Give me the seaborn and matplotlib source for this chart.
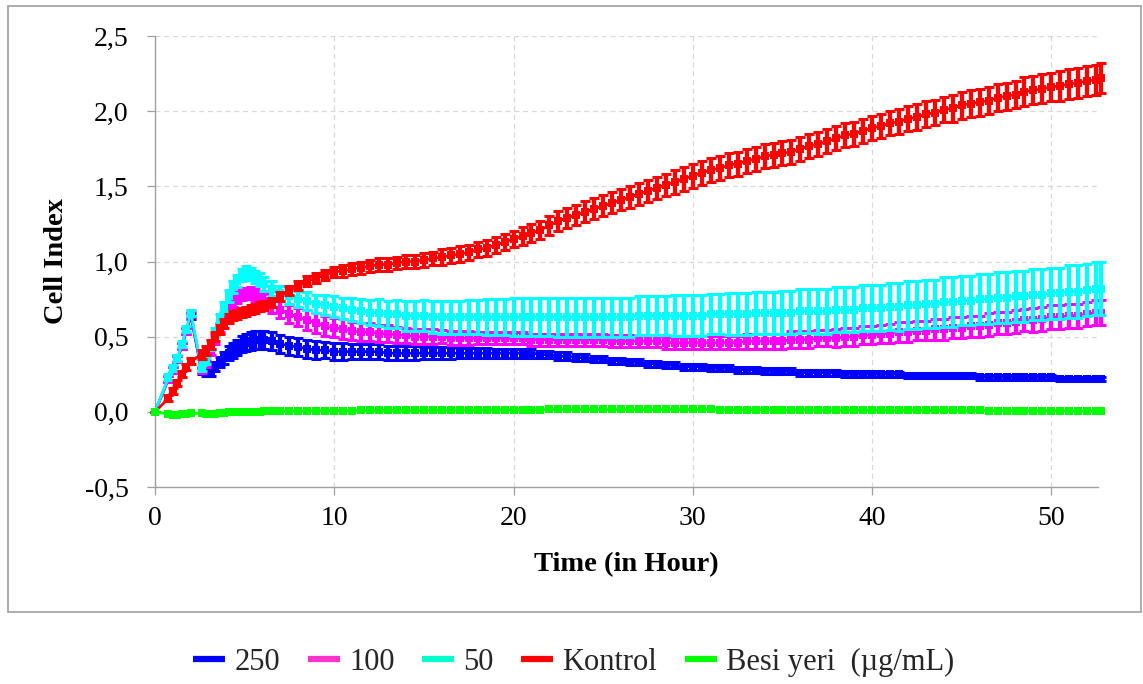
import numpy as np
import pandas as pd
import matplotlib
matplotlib.use("Agg")
import matplotlib.pyplot as plt
from matplotlib.lines import Line2D
from matplotlib.patches import Rectangle
import seaborn as sns

# Sampling times (hours)
hours = [
    0.0, 0.75, 1.0, 1.25, 1.5, 1.75, 2.0, 2.6, 2.85, 3.1,
    3.35, 3.6, 3.85, 4.1, 4.35, 4.6, 4.85, 5.1, 5.35, 5.6,
    5.85, 6.1, 6.5, 7.0, 7.5, 8.0, 8.5, 9.0, 9.5, 10.0,
    10.5, 11, 11.5, 12, 12.5, 13, 13.5, 14, 14.5, 15,
    15.5, 16, 16.5, 17, 17.5, 18, 18.5, 19, 19.5, 20,
    20.5, 21, 21.5, 22, 22.5, 23, 23.5, 24, 24.5, 25,
    25.5, 26, 26.5, 27, 27.5, 28, 28.5, 29, 29.5, 30,
    30.5, 31, 31.5, 32, 32.5, 33, 33.5, 34, 34.5, 35,
    35.5, 36, 36.5, 37, 37.5, 38, 38.5, 39, 39.5, 40,
    40.5, 41, 41.5, 42, 42.5, 43, 43.5, 44, 44.5, 45,
    45.5, 46, 46.5, 47, 47.5, 48, 48.5, 49, 49.5, 50,
    50.5, 51, 51.5, 52, 52.5, 52.75,
]

# Cell index, 250 ug/mL
ci_250 = [
    0.00, 0.22, 0.28, 0.35, 0.44, 0.54, 0.64, 0.27, 0.26, 0.27,
    0.30, 0.33, 0.36, 0.39, 0.41, 0.43, 0.45, 0.46, 0.47, 0.48,
    0.48, 0.48, 0.47, 0.45, 0.44, 0.43, 0.42, 0.41, 0.41, 0.40,
    0.40, 0.40, 0.40, 0.40, 0.40, 0.39, 0.39, 0.39, 0.39, 0.39,
    0.39, 0.39, 0.39, 0.39, 0.39, 0.39, 0.39, 0.39, 0.39, 0.39,
    0.39, 0.39, 0.38, 0.38, 0.37, 0.37, 0.36, 0.36, 0.35, 0.35,
    0.34, 0.34, 0.33, 0.33, 0.32, 0.32, 0.31, 0.31, 0.30, 0.30,
    0.30, 0.29, 0.29, 0.29, 0.28, 0.28, 0.28, 0.27, 0.27, 0.27,
    0.27, 0.26, 0.26, 0.26, 0.26, 0.26, 0.25, 0.25, 0.25, 0.25,
    0.25, 0.25, 0.25, 0.24, 0.24, 0.24, 0.24, 0.24, 0.24, 0.24,
    0.24, 0.23, 0.23, 0.23, 0.23, 0.23, 0.23, 0.23, 0.23, 0.23,
    0.22, 0.22, 0.22, 0.22, 0.22, 0.22,
]
sd_250 = [
    0.00, 0.02, 0.02, 0.02, 0.02, 0.02, 0.02, 0.02, 0.02, 0.03,
    0.03, 0.035, 0.04, 0.045, 0.05, 0.05, 0.055, 0.055, 0.06, 0.06,
    0.06, 0.06, 0.06, 0.06, 0.06, 0.06, 0.06, 0.06, 0.055, 0.055,
    0.055, 0.05, 0.05, 0.05, 0.05, 0.045, 0.045, 0.045, 0.045, 0.04,
    0.04, 0.04, 0.04, 0.035, 0.035, 0.035, 0.035, 0.03, 0.03, 0.03,
    0.03, 0.03, 0.025, 0.025, 0.025, 0.025, 0.025, 0.025, 0.02, 0.02,
    0.02, 0.02, 0.02, 0.02, 0.02, 0.02, 0.02, 0.02, 0.02, 0.02,
    0.02, 0.02, 0.02, 0.02, 0.02, 0.02, 0.02, 0.02, 0.02, 0.02,
    0.02, 0.02, 0.02, 0.02, 0.02, 0.02, 0.02, 0.02, 0.02, 0.02,
    0.015, 0.015, 0.015, 0.015, 0.015, 0.015, 0.015, 0.015, 0.015, 0.015,
    0.015, 0.015, 0.015, 0.015, 0.015, 0.015, 0.015, 0.015, 0.015, 0.015,
    0.015, 0.015, 0.015, 0.015, 0.015, 0.015,
]

# Cell index, 100 ug/mL
ci_100 = [
    0.00, 0.22, 0.28, 0.35, 0.44, 0.54, 0.65, 0.28, 0.32, 0.40,
    0.48, 0.56, 0.63, 0.69, 0.73, 0.76, 0.78, 0.79, 0.79, 0.78,
    0.76, 0.74, 0.71, 0.68, 0.65, 0.63, 0.61, 0.59, 0.57, 0.56,
    0.55, 0.54, 0.53, 0.53, 0.52, 0.52, 0.51, 0.51, 0.50, 0.50,
    0.50, 0.50, 0.49, 0.49, 0.49, 0.49, 0.49, 0.49, 0.49, 0.49,
    0.49, 0.48, 0.48, 0.48, 0.48, 0.48, 0.48, 0.48, 0.48, 0.48,
    0.47, 0.47, 0.47, 0.47, 0.47, 0.47, 0.46, 0.46, 0.46, 0.46,
    0.46, 0.46, 0.46, 0.46, 0.46, 0.47, 0.47, 0.47, 0.47, 0.47,
    0.48, 0.48, 0.48, 0.49, 0.49, 0.49, 0.50, 0.50, 0.51, 0.51,
    0.52, 0.52, 0.53, 0.53, 0.54, 0.54, 0.55, 0.55, 0.56, 0.56,
    0.57, 0.57, 0.58, 0.59, 0.59, 0.60, 0.61, 0.61, 0.62, 0.63,
    0.63, 0.64, 0.64, 0.65, 0.66, 0.66,
]
sd_100 = [
    0.00, 0.02, 0.02, 0.02, 0.02, 0.02, 0.02, 0.02, 0.02, 0.02,
    0.03, 0.03, 0.03, 0.03, 0.03, 0.035, 0.035, 0.035, 0.04, 0.04,
    0.04, 0.045, 0.05, 0.055, 0.06, 0.06, 0.065, 0.065, 0.065, 0.065,
    0.065, 0.06, 0.06, 0.06, 0.055, 0.055, 0.055, 0.05, 0.05, 0.05,
    0.05, 0.045, 0.045, 0.045, 0.045, 0.04, 0.04, 0.04, 0.04, 0.04,
    0.04, 0.04, 0.04, 0.04, 0.04, 0.04, 0.04, 0.04, 0.04, 0.04,
    0.04, 0.04, 0.04, 0.04, 0.04, 0.04, 0.04, 0.04, 0.04, 0.04,
    0.045, 0.045, 0.045, 0.045, 0.045, 0.05, 0.05, 0.05, 0.05, 0.05,
    0.055, 0.055, 0.055, 0.055, 0.055, 0.06, 0.06, 0.06, 0.06, 0.06,
    0.06, 0.065, 0.065, 0.065, 0.065, 0.065, 0.07, 0.07, 0.07, 0.07,
    0.07, 0.07, 0.075, 0.075, 0.075, 0.075, 0.075, 0.08, 0.08, 0.08,
    0.08, 0.08, 0.08, 0.08, 0.085, 0.085,
]

# Cell index, 50 ug/mL
ci_50 = [
    0.00, 0.23, 0.29, 0.36, 0.45, 0.55, 0.66, 0.29, 0.34, 0.44,
    0.53, 0.62, 0.70, 0.77, 0.83, 0.87, 0.91, 0.93, 0.92, 0.90,
    0.88, 0.85, 0.82, 0.79, 0.77, 0.75, 0.74, 0.72, 0.71, 0.70,
    0.69, 0.68, 0.67, 0.66, 0.66, 0.65, 0.65, 0.64, 0.64, 0.64,
    0.63, 0.63, 0.63, 0.63, 0.63, 0.63, 0.63, 0.63, 0.63, 0.63,
    0.63, 0.63, 0.63, 0.63, 0.63, 0.63, 0.63, 0.63, 0.63, 0.63,
    0.63, 0.63, 0.63, 0.64, 0.64, 0.64, 0.64, 0.64, 0.64, 0.64,
    0.64, 0.65, 0.65, 0.65, 0.65, 0.65, 0.66, 0.66, 0.66, 0.66,
    0.66, 0.67, 0.67, 0.67, 0.67, 0.68, 0.68, 0.68, 0.69, 0.69,
    0.69, 0.70, 0.70, 0.71, 0.71, 0.72, 0.72, 0.73, 0.73, 0.74,
    0.74, 0.75, 0.75, 0.76, 0.76, 0.77, 0.77, 0.78, 0.78, 0.79,
    0.79, 0.80, 0.80, 0.81, 0.82, 0.82,
]
sd_50 = [
    0.00, 0.02, 0.02, 0.02, 0.02, 0.02, 0.02, 0.02, 0.02, 0.03,
    0.03, 0.03, 0.03, 0.04, 0.04, 0.04, 0.04, 0.04, 0.04, 0.04,
    0.045, 0.045, 0.05, 0.05, 0.055, 0.055, 0.06, 0.06, 0.065, 0.07,
    0.07, 0.075, 0.08, 0.085, 0.09, 0.09, 0.095, 0.10, 0.10, 0.105,
    0.105, 0.11, 0.11, 0.11, 0.115, 0.115, 0.12, 0.12, 0.12, 0.125,
    0.125, 0.125, 0.125, 0.125, 0.13, 0.13, 0.13, 0.13, 0.13, 0.13,
    0.13, 0.13, 0.13, 0.13, 0.13, 0.13, 0.13, 0.135, 0.135, 0.135,
    0.135, 0.135, 0.135, 0.14, 0.14, 0.14, 0.14, 0.14, 0.14, 0.145,
    0.145, 0.145, 0.145, 0.15, 0.15, 0.15, 0.15, 0.15, 0.155, 0.155,
    0.155, 0.155, 0.16, 0.16, 0.16, 0.16, 0.16, 0.165, 0.165, 0.165,
    0.165, 0.165, 0.165, 0.17, 0.17, 0.17, 0.17, 0.17, 0.17, 0.17,
    0.17, 0.175, 0.175, 0.175, 0.175, 0.175,
]

# Cell index, untreated control
ci_kontrol = [
    0.00, 0.09, 0.14, 0.19, 0.25, 0.30, 0.34, 0.38, 0.41, 0.45,
    0.50, 0.55, 0.59, 0.62, 0.64, 0.65, 0.66, 0.67, 0.68, 0.69,
    0.70, 0.71, 0.73, 0.77, 0.81, 0.84, 0.87, 0.89, 0.91, 0.93,
    0.94, 0.95, 0.96, 0.97, 0.98, 0.98, 0.99, 1.00, 1.00, 1.01,
    1.02, 1.03, 1.04, 1.05, 1.06, 1.08, 1.09, 1.11, 1.13, 1.15,
    1.17, 1.19, 1.21, 1.24, 1.27, 1.29, 1.31, 1.33, 1.35, 1.37,
    1.39, 1.41, 1.43, 1.45, 1.47, 1.49, 1.51, 1.53, 1.55, 1.57,
    1.59, 1.61, 1.62, 1.64, 1.65, 1.67, 1.68, 1.70, 1.71, 1.72,
    1.73, 1.75, 1.77, 1.78, 1.80, 1.82, 1.84, 1.85, 1.87, 1.89,
    1.90, 1.92, 1.93, 1.95, 1.96, 1.98, 1.99, 2.01, 2.02, 2.04,
    2.05, 2.06, 2.07, 2.09, 2.10, 2.11, 2.13, 2.14, 2.15, 2.16,
    2.17, 2.18, 2.19, 2.20, 2.21, 2.22,
]
sd_kontrol = [
    0.00, 0.02, 0.02, 0.02, 0.02, 0.02, 0.02, 0.03, 0.03, 0.03,
    0.03, 0.03, 0.03, 0.03, 0.03, 0.03, 0.03, 0.03, 0.03, 0.03,
    0.03, 0.03, 0.03, 0.03, 0.03, 0.03, 0.035, 0.035, 0.035, 0.035,
    0.04, 0.04, 0.04, 0.04, 0.04, 0.04, 0.04, 0.045, 0.045, 0.045,
    0.045, 0.05, 0.05, 0.05, 0.05, 0.05, 0.055, 0.055, 0.055, 0.055,
    0.06, 0.06, 0.06, 0.065, 0.065, 0.065, 0.065, 0.07, 0.07, 0.07,
    0.07, 0.07, 0.075, 0.075, 0.075, 0.075, 0.075, 0.08, 0.08, 0.08,
    0.08, 0.08, 0.08, 0.08, 0.08, 0.08, 0.08, 0.08, 0.08, 0.08,
    0.08, 0.08, 0.08, 0.08, 0.08, 0.08, 0.08, 0.08, 0.08, 0.08,
    0.08, 0.08, 0.085, 0.085, 0.085, 0.085, 0.085, 0.085, 0.09, 0.09,
    0.09, 0.09, 0.09, 0.09, 0.09, 0.09, 0.095, 0.095, 0.095, 0.095,
    0.10, 0.10, 0.10, 0.10, 0.10, 0.10,
]

# Cell index, medium only (no cells)
ci_besi = [
    0.000, -0.015, -0.020, -0.018, -0.015, -0.012, -0.010, -0.010, -0.014, -0.016,
    -0.012, -0.008, -0.005, -0.003, -0.002, -0.001, 0.000, 0.000, 0.001, 0.002,
    0.002, 0.003, 0.003, 0.004, 0.005, 0.005, 0.006, 0.006, 0.007, 0.007,
    0.008, 0.008, 0.009, 0.009, 0.010, 0.010, 0.010, 0.011, 0.011, 0.011,
    0.012, 0.012, 0.012, 0.013, 0.013, 0.013, 0.014, 0.014, 0.014, 0.015,
    0.015, 0.015, 0.015, 0.016, 0.016, 0.016, 0.016, 0.016, 0.016, 0.016,
    0.016, 0.016, 0.016, 0.016, 0.016, 0.016, 0.016, 0.016, 0.016, 0.016,
    0.016, 0.016, 0.015, 0.015, 0.015, 0.015, 0.015, 0.015, 0.015, 0.014,
    0.014, 0.014, 0.014, 0.014, 0.013, 0.013, 0.013, 0.013, 0.012, 0.012,
    0.012, 0.012, 0.011, 0.011, 0.011, 0.010, 0.010, 0.010, 0.010, 0.009,
    0.009, 0.009, 0.008, 0.008, 0.008, 0.007, 0.007, 0.007, 0.006, 0.006,
    0.006, 0.005, 0.005, 0.005, 0.004, 0.004,
]

series_labels = ["250", "100", "50", "Kontrol", "Besi yeri  (\u00b5g/mL)"]
line_colors = ["#0000FF", "#FF00FF", "#00FFFF", "#FF0000", "#00FF00"]
legend_colors = ["#0000FF", "#FF33CC", "#00FFCC", "#FF0000", "#00FF00"]

x_ticks = [0, 10, 20, 30, 40, 50]
y_ticks = [-0.5, 0.0, 0.5, 1.0, 1.5, 2.0, 2.5]
y_tick_labels = ["-0,5", "0,0", "0,5", "1,0", "1,5", "2,0", "2,5"]

means = [ci_250, ci_100, ci_50, ci_kontrol, ci_besi]
sds = [sd_250, sd_100, sd_50, sd_kontrol, None]

frames = []
for label, m, s in zip(series_labels, means, sds):
    frames.append(pd.DataFrame({
        "time": hours,
        "ci": m,
        "sd": s if s is not None else [np.nan] * len(hours),
        "group": label,
    }))
data = pd.concat(frames, ignore_index=True)

sns.set_theme(style="white")
plt.rcParams["font.family"] = ["Liberation Serif", "DejaVu Serif"]

W, H = 1143, 684
fig = plt.figure(figsize=(W / 100, H / 100), dpi=100)
fig.patch.set_facecolor("white")

# outer chart border
fig.add_artist(Rectangle((8 / W, 1 - 612 / H), (1141 - 8) / W, (612 - 6) / H,
                         transform=fig.transFigure, fill=False,
                         edgecolor="#A6A6A6", linewidth=1.3))

ax = fig.add_axes([155 / W, 1 - 487 / H, 943 / W, 451 / H])
ax.set_facecolor("white")

# each series: SD bars underneath, mean line with square markers on top
for i, (label, color) in enumerate(zip(series_labels, line_colors)):
    sub = data[data["group"] == label]
    z = 3 + i
    if sub["sd"].notna().any():
        ax.errorbar(sub["time"], sub["ci"], yerr=sub["sd"], fmt="none",
                    ecolor=color, elinewidth=3.1, capsize=3.8, capthick=2.2,
                    zorder=z, clip_on=False)
    sns.lineplot(data=sub, x="time", y="ci", ax=ax, color=color,
                 estimator=None, sort=False, legend=False,
                 linewidth=2.0, marker="s", markersize=6.0,
                 markeredgewidth=0, zorder=z + 0.5, clip_on=False)

ax.set_xlim(0, 52.6)
ax.set_ylim(-0.5, 2.5)
ax.set_xticks(x_ticks)
ax.set_xticklabels([str(t) for t in x_ticks])
ax.set_yticks(y_ticks)
ax.set_yticklabels(y_tick_labels)

ax.grid(True, color="#D9D9D9", linestyle=(0, (4, 3)), linewidth=0.9)
ax.set_axisbelow(True)
for side in ["top", "right"]:
    ax.spines[side].set_visible(False)
for side in ["left", "bottom"]:
    ax.spines[side].set_color("#A0A0A0")
    ax.spines[side].set_linewidth(1.0)

ax.tick_params(axis="both", which="major", bottom=True, left=True,
               direction="out", length=6, width=0.9, color="#A0A0A0",
               labelcolor="black", labelsize=20)
ax.tick_params(axis="x", pad=8)
ax.tick_params(axis="y", pad=13)

ax.set_xlabel("Time (in Hour)", fontsize=20.5, fontweight="bold",
              color="black", va="center")
ax.xaxis.set_label_coords(0.5, -0.173)
ax.set_ylabel("Cell Index", fontsize=20.5, fontweight="bold",
              color="black", va="center")
ax.yaxis.set_label_coords(-0.104, 0.5)

handles = [Line2D([], [], color=c, linewidth=4.5, solid_capstyle="butt")
           for c in legend_colors]
fig.legend(handles, series_labels, loc="center", bbox_to_anchor=(0.502, 0.032),
           ncol=5, frameon=False, fontsize=22, handlelength=1.05,
           handletextpad=0.3, columnspacing=0.9)

fig.savefig("out.png", dpi=100, facecolor="white")
